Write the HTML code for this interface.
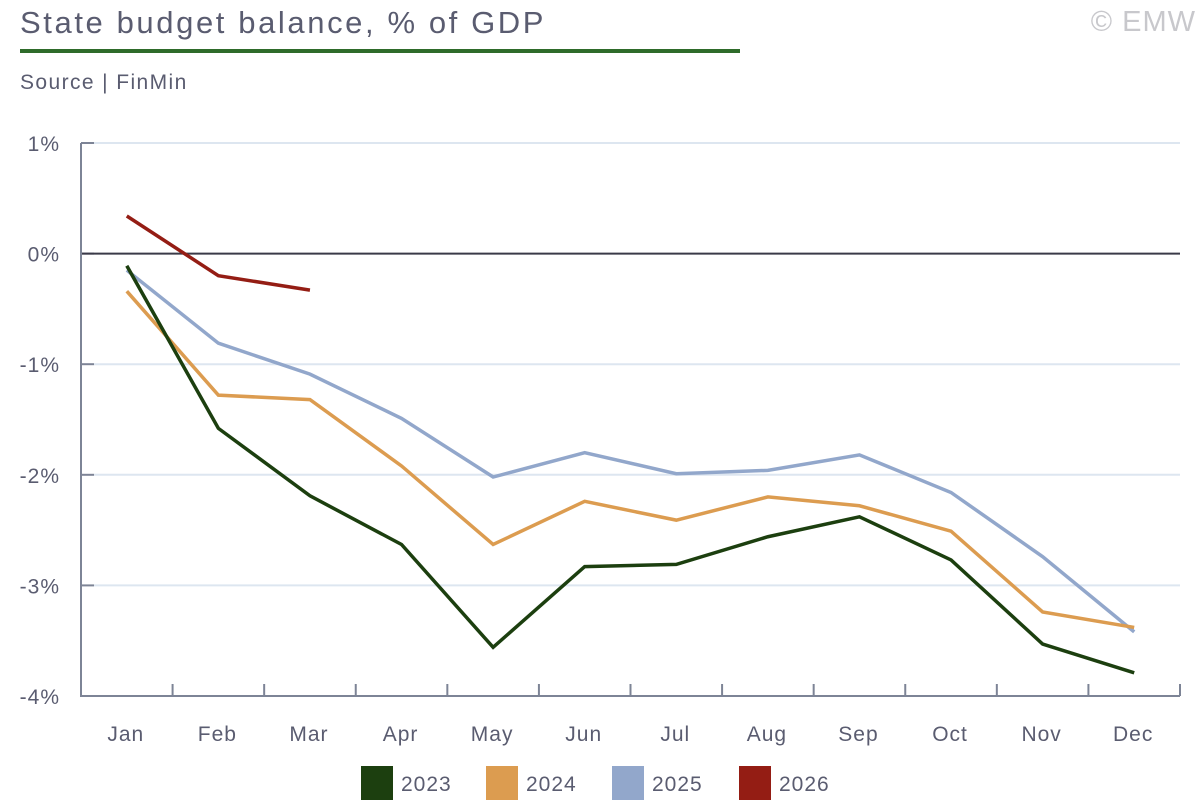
<!DOCTYPE html>
<html><head><meta charset="utf-8"><style>
body{margin:0;background:#fff;width:1200px;height:800px;overflow:hidden;font-family:"Liberation Sans",sans-serif;}
</style></head><body>
<svg width="1200" height="800" xmlns="http://www.w3.org/2000/svg">
<text x="20" y="33" font-size="31" letter-spacing="2.6" fill="#5a5c70">State budget balance, % of GDP</text>
<text x="1196" y="31" font-size="29" letter-spacing="1" fill="#c8c8cc" text-anchor="end">© EMW</text>
<rect x="20" y="49" width="720" height="4" fill="#2e6b2a"/>
<text x="20" y="89" font-size="21" letter-spacing="1.4" fill="#5a5c70">Source | FinMin</text>
<g id="grid"></g><g id="axes"></g><g id="lines"></g><g id="legend"></g>
</svg>
<script>
const months=["Jan","Feb","Mar","Apr","May","Jun","Jul","Aug","Sep","Oct","Nov","Dec"];
const yTicks=[1,0,-1,-2,-3,-4];
const s2023=[-0.11,-1.58,-2.19,-2.63,-3.56,-2.83,-2.81,-2.56,-2.38,-2.77,-3.53,-3.79];
const s2024=[-0.34,-1.28,-1.32,-1.92,-2.63,-2.24,-2.41,-2.20,-2.28,-2.51,-3.24,-3.38];
const s2025=[-0.15,-0.81,-1.09,-1.49,-2.02,-1.80,-1.99,-1.96,-1.82,-2.16,-2.74,-3.42];
const s2026=[0.34,-0.20,-0.33];
const seriesNames=["2023","2024","2025","2026"];
const NS="http://www.w3.org/2000/svg";
const L=81,R=1180,T=143,B=696;
const y=v=>T+(1-v)/5*(B-T);
const step=(R-L)/12;
const x=i=>L+step*(i+0.5);
function mk(t,a,p){const e=document.createElementNS(NS,t);for(const k in a)e.setAttribute(k,a[k]);p.appendChild(e);return e;}
const grid=document.getElementById('grid'),axes=document.getElementById('axes'),lines=document.getElementById('lines'),leg=document.getElementById('legend');
yTicks.forEach(v=>{
 if(v!==-4&&v!==0){const g=mk('line',{x1:L+13,x2:R,y1:y(v),y2:y(v),stroke:'#dde6f0','stroke-width':2},grid);
 
 }
 const tk=mk('line',{x1:L,x2:L+13,y1:y(v),y2:y(v),stroke:'#7d8496','stroke-width':2},axes);
 
 
 const t=mk('text',{x:60,y:y(v)+8,'font-size':21,'letter-spacing':1,fill:'#5a5c70','text-anchor':'end'},axes);t.textContent=v+'%';
 
 
});
const zl=mk('line',{x1:L,x2:R,y1:y(0),y2:y(0),stroke:'#3a3a48','stroke-width':2},axes);


const ya=mk('line',{x1:L,x2:L,y1:T,y2:B+1,stroke:'#7d8496','stroke-width':2},axes);


const xa=mk('line',{x1:L,x2:R,y1:B,y2:B,stroke:'#7d8496','stroke-width':2},axes);


months.forEach((m,i)=>{
 const tk=mk('line',{x1:L+step*(i+1),x2:L+step*(i+1),y1:B-12,y2:B,stroke:'#7d8496','stroke-width':2},axes);
 
 
 const t=mk('text',{x:x(i)-1,y:741,'font-size':21,'letter-spacing':1,fill:'#5a5c70','text-anchor':'middle'},axes);t.textContent=m;
 
 
});
const data=[s2023,s2024,s2025,s2026];
const colors=["#1c3f0f","#dc9c50","#92a7cb","#941d14"];
[2,1,0,3].forEach(k=>{
 const p=mk('polyline',{points:data[k].map((v,i)=>x(i)+','+y(v)).join(' '),fill:'none',stroke:colors[k],'stroke-width':3.5,'stroke-linejoin':'miter'},lines);
 
 
});
const lx=[361,486,612,739];
seriesNames.forEach((n,k)=>{
 const r=mk('rect',{x:lx[k],y:766,width:32,height:34,fill:colors[k]},leg);
 
 
 const t=mk('text',{x:lx[k]+40,y:791,'font-size':21,'letter-spacing':1,fill:'#5a5c70'},leg);t.textContent=n;
 
 
});
</script>
</body></html>
